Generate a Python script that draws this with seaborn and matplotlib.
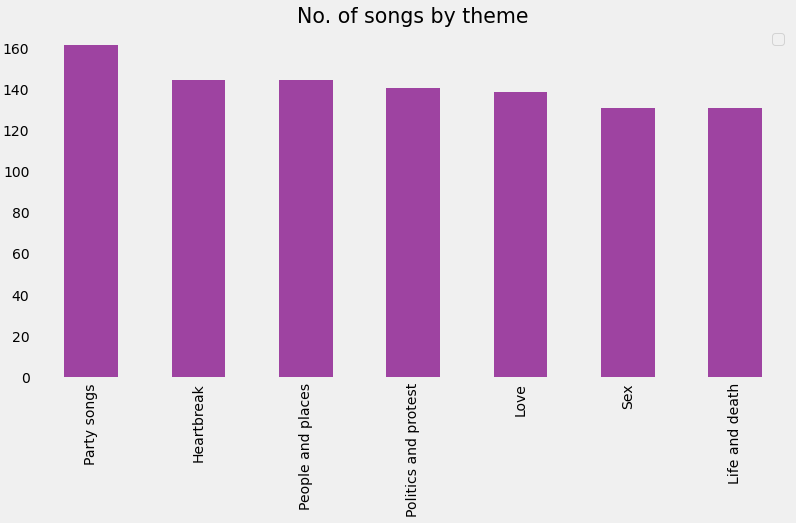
import pandas as pd
import matplotlib
matplotlib.use("Agg")
import matplotlib.pyplot as plt
import seaborn as sns

themes = ['Party songs', 'Heartbreak', 'People and places', 'Politics and protest',
          'Love', 'Sex', 'Life and death']
song_counts = [162, 145, 145, 141, 139, 131, 131]

df = pd.DataFrame({'theme': themes, 'songs': song_counts})

sns.set_theme(style="white", rc={
    'figure.facecolor': '#f0f0f0',
    'axes.facecolor': '#f0f0f0',
    'savefig.facecolor': '#f0f0f0',
    'axes.grid': False,
    'xtick.major.size': 0,
    'ytick.major.size': 0,
    'font.size': 14,
})
plt.rcParams['font.family'] = ['DejaVu Sans']

fig, ax = plt.subplots(figsize=(796 / 72, 523 / 72), dpi=72)
sns.barplot(data=df, x='theme', y='songs', color='#9e43a1', saturation=1,
            width=0.5, linewidth=0, ax=ax)

ax.set_title('No. of songs by theme', fontsize=20.5, color='black', pad=5)
ax.set_xlabel('')
ax.set_ylabel('')
ax.set_ylim(0, 170)
ax.set_xlim(-0.5, 6.5)
ax.tick_params(axis='x', labelrotation=90, labelsize=14, colors='black', pad=6)
ax.tick_params(axis='y', labelsize=14, colors='black', pad=8)
for s in ax.spines.values():
    s.set_visible(False)
ax.legend(handles=[], loc='upper right', frameon=True, fontsize=15,
          borderaxespad=0.3)

plt.subplots_adjust(left=0.047, right=0.991, top=0.946, bottom=0.279)
fig.savefig('out.png', dpi=72)
